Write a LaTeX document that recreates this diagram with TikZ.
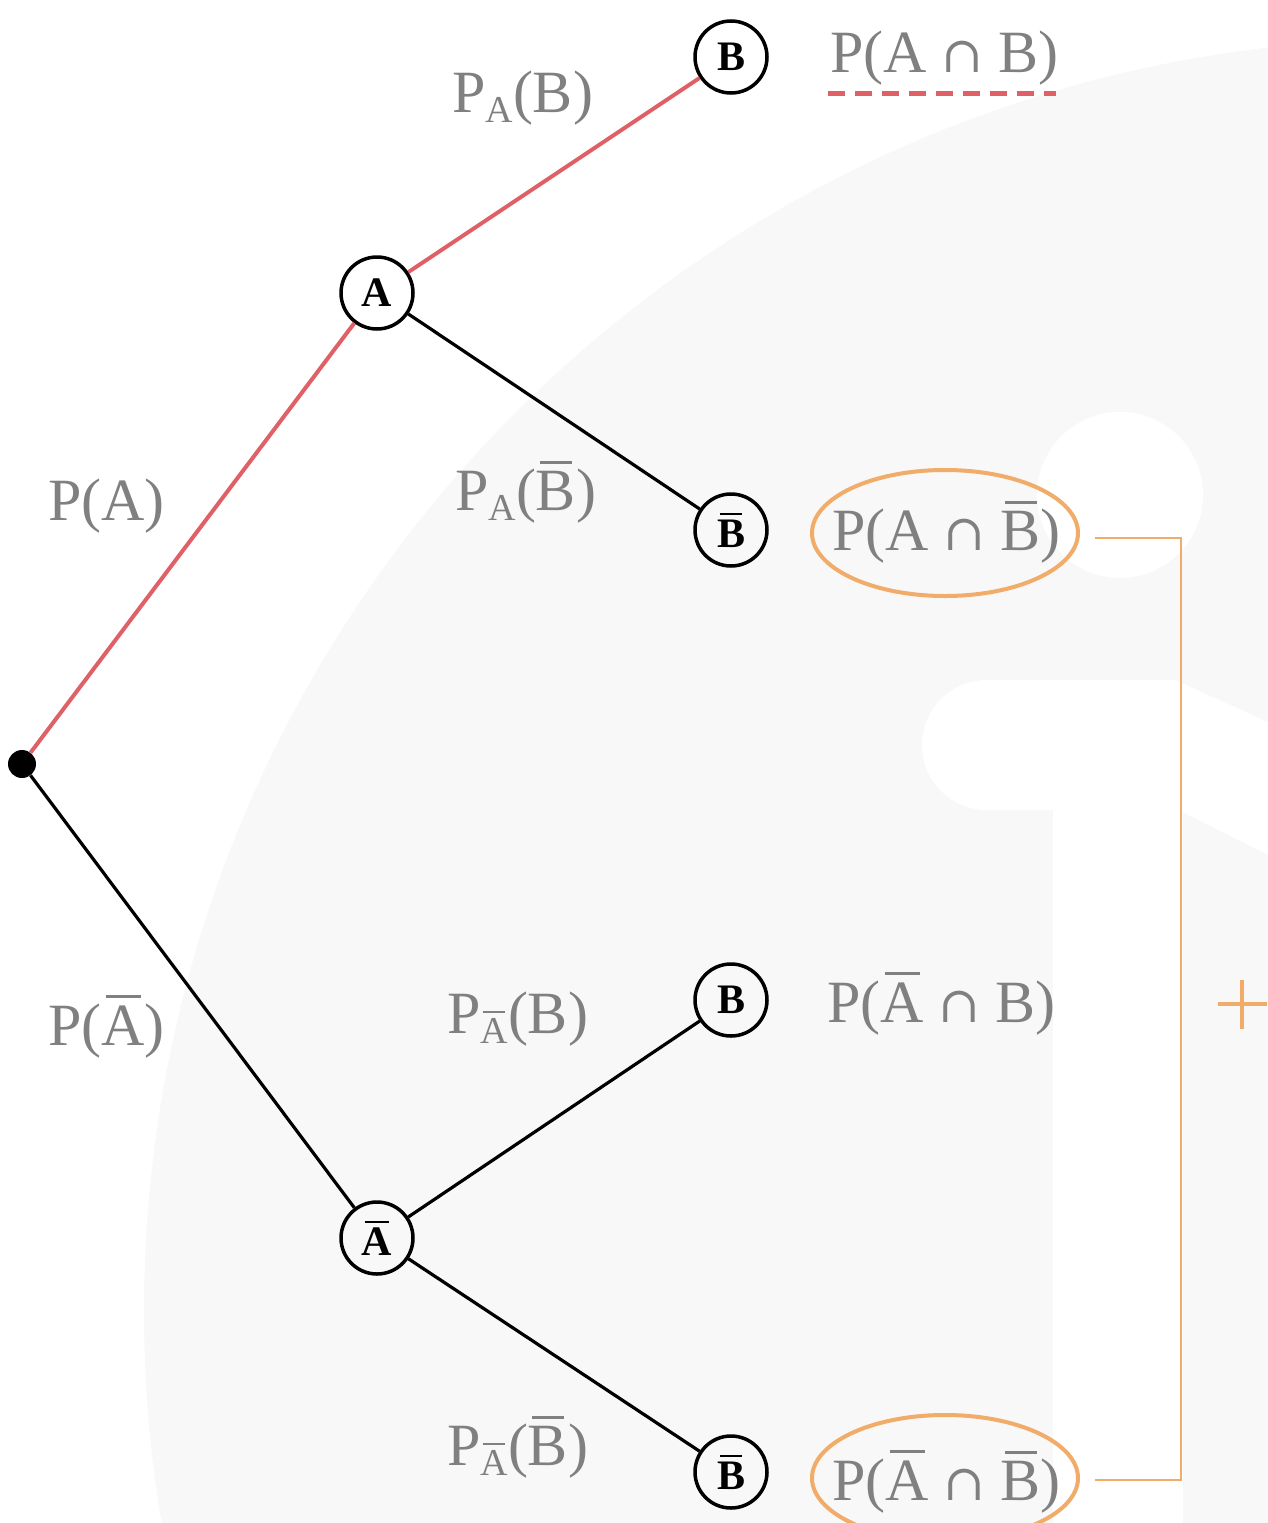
\documentclass[tikz,border=0pt]{standalone}
\usepackage{fontspec}
\setmainfont{Liberation Serif}
\newfontfamily\symf{DejaVu Serif}
\usetikzlibrary{shapes.geometric}
\definecolor{bgg}{RGB}{248,248,248}
\definecolor{lblg}{RGB}{128,128,128}
\definecolor{redl}{RGB}{224,96,104}
\definecolor{orl}{RGB}{240,172,104}
\newsavebox\obbox
\newcommand\ob[1]{\sbox\obbox{#1}\makebox[0pt][l]{\hspace{0.1\wd\obbox}\rule[\dimexpr\ht\obbox+0.12em\relax]{0.8\wd\obbox}{0.05em}}\usebox\obbox}
\newcommand\sbs[1]{\raisebox{-10pt}{\fontsize{38}{38}\selectfont #1}}
\newcommand\capsym{{\symf\fontsize{50}{50}\selectfont\char"2229}}
\begin{document}
\begin{tikzpicture}[x=1pt,y=-1pt,
 lbl/.style={text=lblg, font=\fontsize{60}{72}\selectfont, inner sep=0pt, anchor=base west},
 evt/.style={circle, draw=black, line width=3.5pt, minimum size=72pt, inner sep=0pt, font=\fontsize{42}{42}\selectfont\bfseries},
 edge/.style={line width=3.2pt, black},
 hot/.style={line width=4pt, redl},
 brk/.style={line width=2.5pt, orl},
 ring/.style={line width=4pt, orl}]
\useasboundingbox (0,0) rectangle (1268,1523);
\begin{scope}
\clip (0,0) rectangle (1268,1523);
\fill[bgg] (1416,1311) circle[radius=1272pt];
\fill[white] (1120,495) circle[radius=83pt];
\fill[white] (987,745) circle[radius=65pt];
\fill[white] (987,680) -- (1175,680) -- (1268,722) -- (1268,855) -- (1183,812) -- (1183,1523) -- (1053,1523) -- (1053,810) -- (987,810) -- cycle;
\end{scope}
% nodes
\node[circle, fill=black, minimum size=28pt, inner sep=0pt] (root) at (22,764) {};
\node[evt] (A) at (377,293) {A};
\node[evt] (nA) at (377,1238) {\ob{A}};
\node[evt] (B1) at (731,57) {B};
\node[evt] (B2) at (731,530) {\ob{B}};
\node[evt] (B3) at (731,1000) {B};
\node[evt] (B4) at (731,1472) {\ob{B}};
% edges
\draw[hot] (root) -- (A);
\draw[hot] (A) -- (B1);
\draw[edge] (A) -- (B2);
\draw[edge] (root) -- (nA);
\draw[edge] (nA) -- (B3);
\draw[edge] (nA) -- (B4);
% branch labels
\node[lbl] (l1) at (452,112) {P\sbs{A}(B)};
\node[lbl] (l2) at (48,520) {P(A)};
\node[lbl] (l3) at (455,510) {P\sbs{A}(\ob{B})};
\node[lbl] (l4) at (48,1045) {P(\ob{A})};
\node[lbl] (l5) at (447,1033) {P\sbs{\ob{A}}(B)};
\node[lbl] (l6) at (447,1465) {P\sbs{\ob{A}}(\ob{B})};
% results
\node[lbl] (r1) at (830,72) {P(A \capsym\ B)};
\node[lbl] (r2) at (832,550) {P(A \capsym\ \ob{B})};
\node[lbl] (r3) at (827,1022) {P(\ob{A} \capsym\ B)};
\node[lbl] (r4) at (832,1500) {P(\ob{A} \capsym\ \ob{B})};
% marks
\draw[redl, line width=5pt, dash pattern=on 17pt off 10pt] (828,93) -- (1056,93);
\draw[ring] (945,533) ellipse[x radius=133pt, y radius=63pt];
\draw[ring] (945,1478) ellipse[x radius=133pt, y radius=63pt];
\coordinate (k1) at (1095,538);
\coordinate (k2) at (1095,1480);
\draw[brk] (k1) -- (1181,538) -- (1181,1480) -- (k2);
\draw[orl, line width=3.5pt] (1218,1004) -- (1267,1004) (1242,980) -- (1242,1029);
\end{tikzpicture}
\end{document}
